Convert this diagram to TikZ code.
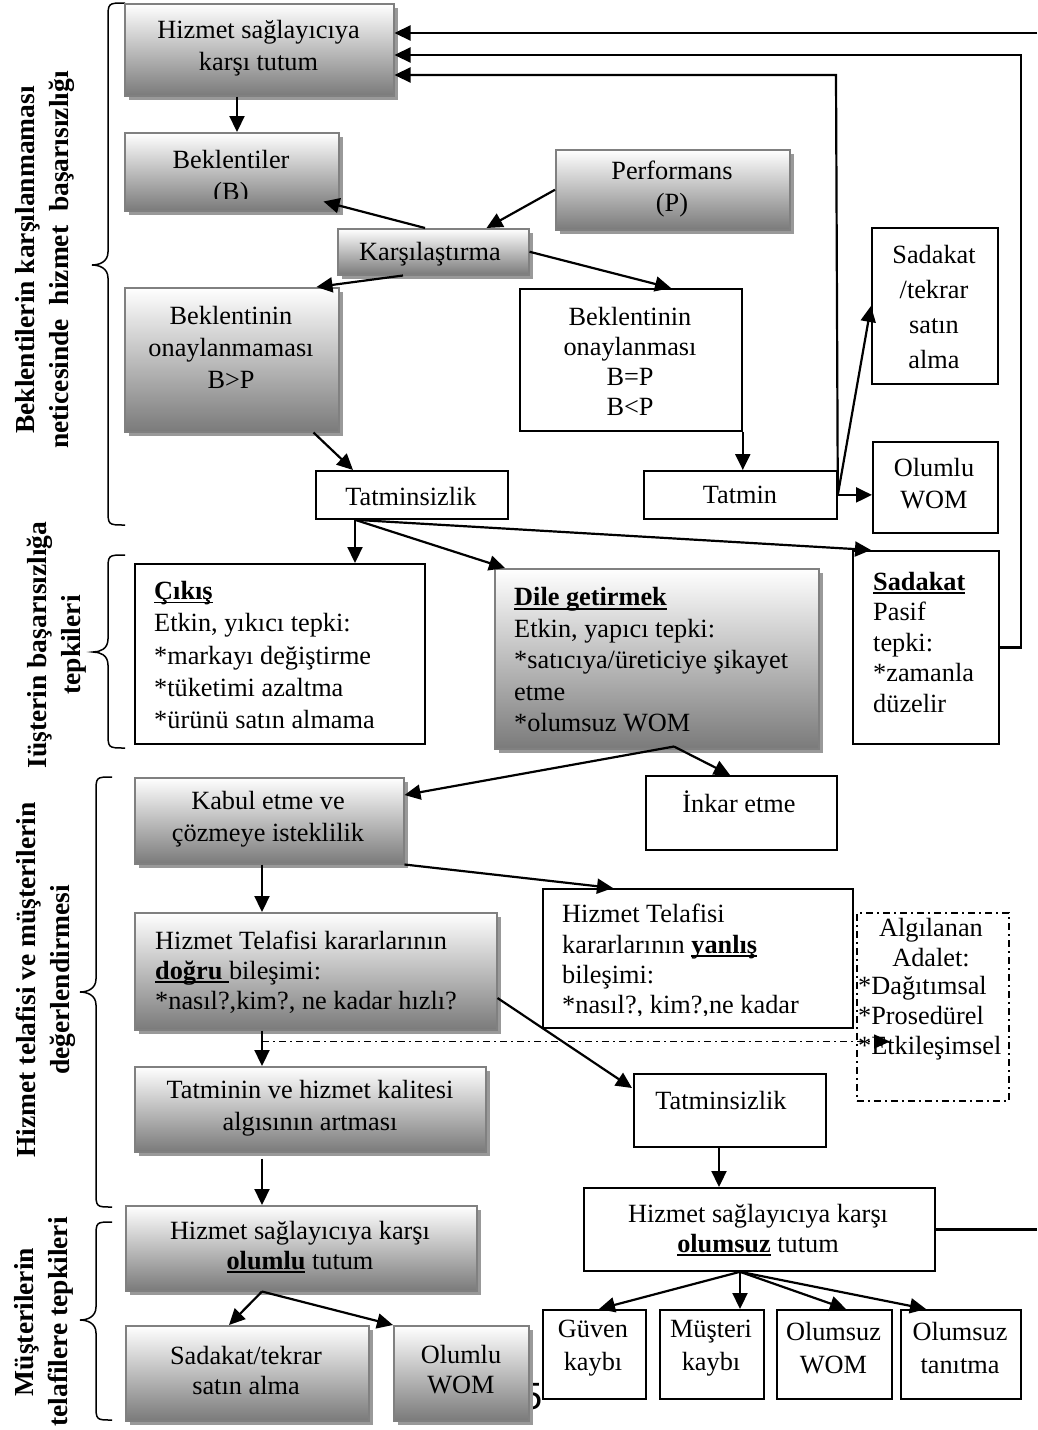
\documentclass[tikz,border=0pt]{standalone}
\usepackage{fontspec}
\setmainfont{Liberation Serif}
\newfontfamily\digitfont{Liberation Sans}
\usetikzlibrary{arrows.meta,shadows,calc}
\newcommand\myul[1]{\setbox0\hbox{#1}\rlap{\rule[-4pt]{\wd0}{1.8pt}}\box0\relax}
\newcommand\mybrace[6]{\draw[brc] (#1,#4) .. controls (#2,#4) and (#2,#4) .. (#2,#4+16) -- (#2,#5-13) .. controls (#2,#5-3) and (#3+7,#5) .. (#3,#5) .. controls (#3+7,#5) and (#2,#5+3) .. (#2,#5+13) -- (#2,#6-16) .. controls (#2,#6) and (#2,#6) .. (#1,#6);}
\tikzset{
 gbox/.style={draw=black!50, line width=1.5pt, top color=white, bottom color=black!52,
   drop shadow={shadow xshift=4pt, shadow yshift=-4pt, fill=black!40, opacity=1},
   anchor=north west, inner sep=0pt},
 wbox/.style={draw=black, line width=1.8pt, fill=white, anchor=north west, inner sep=0pt},
 dbox/.style={draw=black, line width=1.5pt, dash pattern=on 7pt off 4pt on 2pt off 4pt, anchor=north west, inner sep=0pt},
 txt/.style={font=\fontsize{26.3}{32}\selectfont, align=center, inner sep=0pt},
 ltxt/.style={font=\fontsize{26.3}{32}\selectfont, align=left, inner sep=0pt, anchor=west},
 side/.style={font=\fontsize{27.5}{34}\selectfont\bfseries, align=center, rotate=90, inner sep=0pt},
 arr/.style={line width=2.2pt, -{Triangle[length=16pt,width=15pt]}},
 dasharr/.style={line width=1.6pt, dash pattern=on 7pt off 4pt on 2pt off 4pt, -{Triangle[length=16pt,width=14pt]}},
 link/.style={line width=2.2pt},
 brc/.style={line width=1.5pt},
}
\begin{document}
\begin{tikzpicture}[x=1pt,y=-1pt]
\useasboundingbox (0,0) rectangle (1037,1430);
\coordinate (rim) at (1037,0);

% side labels and braces
\node[side] (L1) at (45,260) {Beklentilerin karşılanmaması\\neticesinde\ \ hizmet\ \ başarısızlığı};
\node[side] (L2) at (57,645) {Iüşterin başarısızlığa\\tepkileri};
\node[side] (L3) at (46,980) {Hizmet\ telafisi\ ve\ müşterilerin\\değerlendirmesi};
\node[side] (L4) at (44,1322) {Müşterilerin\\telafilere tepkileri};
\mybrace{125}{108}{92}{3}{265}{525}
\mybrace{125}{108}{93}{555}{652}{748}
\mybrace{112}{96}{80}{777}{992}{1207}
\mybrace{112}{96}{80}{1222}{1320}{1420}

% page number partly hidden
\node[font=\digitfont\fontsize{38}{40}\selectfont, inner sep=0pt] (pg) at (532,1397) {5};

% boxes
\node[gbox, minimum width=269pt, minimum height=92pt] (A) at (124,3) {};
\node[txt] (At) at (258.5,48.5) {Hizmet sağlayıcıya\\karşı tutum};

\node[gbox, minimum width=214pt, minimum height=78pt] (B) at (124,132) {};
\begin{scope}
\clip (124,132) rectangle (338,198);
\node[txt] (Bt) at (231,178) {Beklentiler\\(B)};
\end{scope}

\node[gbox, minimum width=234pt, minimum height=80pt] (C) at (555,149) {};
\node[txt] (Ct) at (672,189) {Performans\\(P)};

\node[gbox, minimum width=191pt, minimum height=46pt] (D) at (337,228) {};
\node[txt] (Dt) at (430,254) {Karşılaştırma};

\node[gbox, minimum width=214pt, minimum height=144pt] (E) at (124,287) {};
\node[txt] (Et) at (231,347) {Beklentinin\\onaylanmaması\\B>P};

\node[wbox, minimum width=222pt, minimum height=142pt] (F) at (519,288) {};
\node[txt, font=\fontsize{26.3}{30}\selectfont] (Ft) at (630,361) {Beklentinin\\onaylanması\\B=P\\B<P};

\node[wbox, minimum width=192pt, minimum height=48pt] (G) at (315,470) {};
\node[txt] (Gt) at (411,496) {Tatminsizlik};

\node[wbox, minimum width=193pt, minimum height=48pt] (H) at (643,470) {};
\node[txt] (Ht) at (740,495) {Tatmin};

\node[wbox, minimum width=126pt, minimum height=156pt] (I) at (871,227) {};
\node[txt, font=\fontsize{26.3}{35}\selectfont] (It) at (934,307) {Sadakat\\/tekrar\\satın\\alma};

\node[wbox, minimum width=125pt, minimum height=91pt] (J) at (872,441) {};
\node[txt] (Jt) at (934,484) {Olumlu\\WOM};

\node[wbox, minimum width=290pt, minimum height=180pt] (K1) at (134,563) {};
\node[ltxt, font=\fontsize{26.3}{32.3}\selectfont] (K1t) at (154,655) {\textbf{\myul{Çıkış}}\\Etkin, yıkıcı tepki:\\*markayı değiştirme\\*tüketimi azaltma\\*ürünü satın almama};

\node[gbox, minimum width=324pt, minimum height=180pt] (K2) at (494,568) {};
\node[ltxt, font=\fontsize{26.3}{31.5}\selectfont] (K2t) at (514,660) {\textbf{\myul{Dile getirmek}}\\Etkin, yapıcı tepki:\\*satıcıya/üreticiye şikayet\\etme\\*olumsuz WOM};

\node[wbox, minimum width=146pt, minimum height=193pt] (K3) at (852,550) {};
\node[ltxt, font=\fontsize{26.3}{30.5}\selectfont] (K3t) at (873,642) {\textbf{\myul{Sadakat}}\\Pasif\\tepki:\\*zamanla\\düzelir};

\node[gbox, minimum width=269pt, minimum height=86pt] (W) at (134,777) {};
\node[txt] (Wt) at (268,819) {Kabul etme ve\\çözmeye isteklilik};

\node[wbox, minimum width=191pt, minimum height=74pt] (Y) at (645,775) {};
\node[txt] (Yt) at (739,802) {İnkar etme};

\node[gbox, minimum width=362pt, minimum height=117pt] (BB) at (134,912) {};
\node[ltxt, font=\fontsize{26.3}{30}\selectfont] (BBt) at (155,972) {Hizmet Telafisi kararlarının\\\myul{\textbf{doğru }}bileşimi:\\*nasıl?,kim?, ne kadar hızlı?};

\node[wbox, minimum width=310pt, minimum height=139pt] (CC) at (542,888) {};
\begin{scope}
\clip (542,888) rectangle (852,1015);
\node[ltxt, font=\fontsize{26.3}{30.3}\selectfont] (CCt) at (562,961) {Hizmet Telafisi\\kararlarının \myul{\textbf{yanlış}}\\bileşimi:\\*nasıl?, kim?,ne kadar};
\end{scope}

\node[dbox, minimum width=152pt, minimum height=188pt] (DD) at (856,912) {};
\node[txt, font=\fontsize{26.3}{30}\selectfont] (DDt1) at (931,943) {Algılanan\\Adalet:};
\node[ltxt, font=\fontsize{26.3}{30}\selectfont] (DDt2) at (858,1018) {*Dağıtımsal\\*Prosedürel\\*Etkileşimsel};

\node[gbox, minimum width=351pt, minimum height=85pt] (GG) at (134,1066) {};
\node[txt] (GGt) at (310,1108) {Tatminin ve hizmet kalitesi\\algısının artması};

\node[wbox, minimum width=192pt, minimum height=73pt] (II) at (633,1073) {};
\node[txt] (IIt) at (721,1100) {Tatminsizlik};

\node[wbox, minimum width=351pt, minimum height=83pt] (KK) at (583,1187) {};
\node[txt, font=\fontsize{26.3}{30}\selectfont] (KKt) at (758,1230) {Hizmet sağlayıcıya karşı\\\myul{\textbf{olumsuz}} tutum};

\node[wbox, minimum width=103pt, minimum height=89pt] (M1) at (542,1309) {};
\node[txt, font=\fontsize{26.3}{33}\selectfont] (M1t) at (593,1348) {Güven\\kaybı};
\node[wbox, minimum width=104pt, minimum height=89pt] (M2) at (659,1309) {};
\node[txt, font=\fontsize{26.3}{33}\selectfont] (M2t) at (711,1348) {Müşteri\\kaybı};
\node[wbox, minimum width=115pt, minimum height=89pt] (M3) at (776,1309) {};
\node[txt, font=\fontsize{26.3}{33}\selectfont] (M3t) at (833.5,1348) {Olumsuz\\WOM};
\node[wbox, minimum width=120pt, minimum height=89pt] (M4) at (900,1309) {};
\node[txt, font=\fontsize{26.3}{33}\selectfont] (M4t) at (960,1348) {Olumsuz\\tanıtma};

\node[gbox, minimum width=351pt, minimum height=85pt] (NN) at (125,1205) {};
\node[txt, font=\fontsize{26.3}{30}\selectfont] (NNt) at (300,1247) {Hizmet sağlayıcıya karşı\\\myul{\textbf{olumlu}} tutum};

\node[gbox, minimum width=243pt, minimum height=95pt] (O1) at (125,1325) {};
\node[txt, font=\fontsize{26.3}{30}\selectfont] (O1t) at (246,1370) {Sadakat/tekrar\\satın alma};
\node[gbox, minimum width=135pt, minimum height=95pt] (O2) at (393,1325) {};
\node[txt, font=\fontsize{26.3}{30}\selectfont] (O2t) at (461,1370) {Olumlu\\WOM};

% connectors
\coordinate (c1) at (1037,33);
\draw[arr] (c1) -- (c1 -| A.east);
\coordinate (c2) at (1021,55);
\draw[arr] (K3.east) -- (c2 |- K3.east) -- (c2) -- (c2 -| A.east);
\coordinate (c3) at (836,75);
\draw[arr] (H.east) -- (c3) -- (c3 -| A.east);

\draw[arr] ($(A.south west)+(113,0)$) -- ($(B.north west)+(113,0)$);
\draw[arr] ($(D.north west)+(88,0)$) -- ($(B.south east)+(-16,-10)$);
\draw[arr] (C.west) -- ($(D.north east)+(-43,0)$);
\draw[arr] ($(D.south west)+(66,0)$) -- ($(E.north east)+(-23,0)$);
\draw[arr] (D.east) -- ($(F.north west)+(152,0)$);
\draw[arr] ($(E.south east)+(-26,0)$) -- ($(G.north west)+(38,0)$);
\draw[arr] (F.south east) -- (F.south east |- H.north);
\draw[arr] (H.east) -- (I.west);
\draw[arr] (H.east) -- (J.west |- H.east);

\coordinate (g1) at ($(G.south west)+(40,0)$);
\draw[arr] (g1) -- (g1 |- K1.north);
\draw[arr] (g1) -- ($(K2.north west)+(11,0)$);
\draw[arr] (g1) -- ($(K3.north west)+(19,0)$);

\coordinate (k2) at ($(K2.south west)+(180,-3)$);
\draw[arr] (k2) -- ($(W.north east)+(0,18)$);
\draw[arr] (k2) -- ($(Y.north west)+(85,0)$);

\draw[arr] ($(W.south west)+(128,0)$) -- ($(BB.north west)+(128,0)$);
\draw[arr] (W.south east) -- ($(CC.north west)+(71,0)$);

\draw[arr] ($(BB.south west)+(128,0)$) -- ($(GG.north west)+(128,0)$);
\coordinate (dd1) at ($(BB.south west)+(128,11)$);
\draw[dasharr] (dd1) -- ($(dd1 -| DD.west)+(34,0)$);
\draw[arr] ($(BB.north east)+(0,86)$) -- ($(II.north west)+(-1,15)$);

\draw[arr] ($(GG.south west)+(128,6)$) -- ($(NN.north west)+(137,0)$);
\draw[arr] ($(II.south west)+(86,0)$) -- ($(KK.north west)+(136,0)$);
\draw[link] (KK.east) -- (KK.east -| rim);

\coordinate (n1) at ($(NN.south west)+(137,0)$);
\draw[arr] (n1) -- ($(O1.north west)+(104,0)$);
\draw[arr] (n1) -- (O2.north west);

\coordinate (k1) at ($(KK.south west)+(157,0)$);
\draw[arr] (k1) -- ($(M1.north west)+(57,0)$);
\draw[arr] (k1) -- (k1 |- M2.north);
\draw[arr] (k1) -- ($(M3.north west)+(70,0)$);
\draw[arr] (k1) -- ($(M4.north west)+(26,0)$);
\end{tikzpicture}
\end{document}
